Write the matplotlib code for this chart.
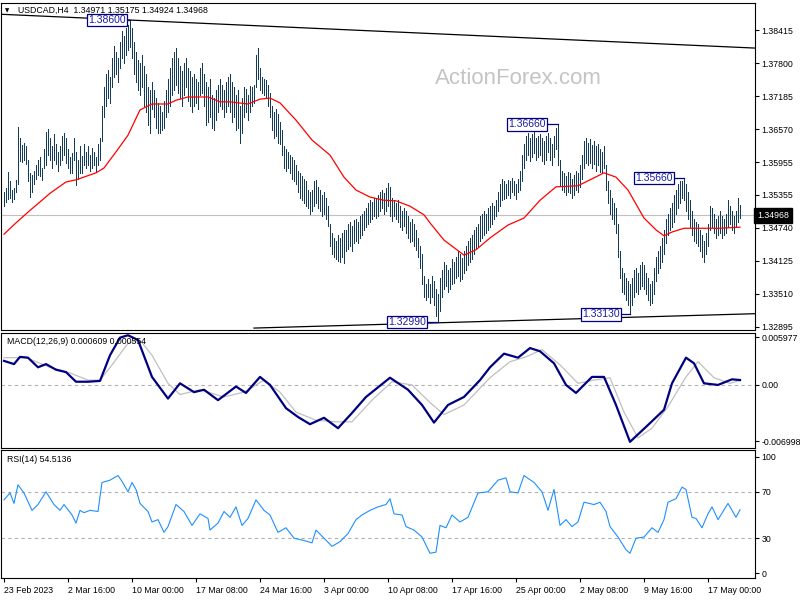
import matplotlib
matplotlib.use("Agg")
import matplotlib.pyplot as plt
import matplotlib.transforms as mtransforms
import numpy as np

plt.rcParams["font.family"] = ["Liberation Sans", "DejaVu Sans"]

# header / last quote
symbol = "USDCAD,H4"
last_ohlc = ["1.34971", "1.35175", "1.34924", "1.34968"]
last_price = 1.34968

# H4 bars, highs and lows in pips above 1.3000 (one entry per bar)
bar_high = [
    540, 548, 578, 560, 545, 548, 562, 662, 640, 628,
    632, 625, 600, 575, 572, 580, 590, 600, 605, 585,
    620, 652, 658, 640, 625, 648, 630, 615, 625, 645,
    650, 640, 620, 605, 612, 640, 615, 600, 625, 608,
    630, 615, 625, 610, 622, 615, 605, 630, 640, 700,
    735, 760, 768, 755, 790, 812, 800, 790, 820, 840,
    830, 845, 850, 860, 845, 820, 800, 785, 780, 795,
    775, 760, 735, 730, 745, 730, 715, 705, 700, 690,
    710, 730, 750, 770, 790, 800, 808, 790, 775, 765,
    780, 790, 770, 765, 755, 760, 750, 745, 770, 780,
    760, 745, 735, 750, 720, 715, 730, 740, 750, 740,
    730, 745, 755, 760, 745, 735, 720, 730, 700, 715,
    735, 732, 720, 738, 735, 740, 795, 808, 770, 755,
    750, 748, 740, 725, 700, 690, 695, 685, 670, 655,
    625, 620, 615, 610, 605, 600, 590, 580, 575, 570,
    565, 560, 545, 540, 545, 560, 562, 550, 545, 535,
    540, 530, 515, 480, 465, 455, 450, 460, 455, 465,
    470, 470, 480, 485, 478, 488, 490, 485, 495, 500,
    505, 510, 520, 525, 522, 530, 528, 535, 540, 545,
    538, 548, 557, 550, 530, 525, 520, 525, 515, 505,
    510, 505, 495, 485, 490, 480, 470, 455, 440, 425,
    385, 370, 378, 370, 385, 375, 360, 350, 380, 395,
    410, 405, 395, 400, 415, 410, 420, 430, 425, 418,
    430, 440, 450, 455, 460, 470, 475, 480, 495, 500,
    505, 500, 510, 515, 520, 515, 525, 540, 555, 565,
    560, 555, 562, 560, 566, 560, 555, 565, 580, 610,
    630, 645, 650, 640, 648, 652, 640, 645, 648, 640,
    635, 645, 650, 640, 630, 645, 660, 666, 600, 580,
    575, 570, 578, 575, 565, 572, 580, 575, 590, 610,
    635, 640, 632, 638, 628, 635, 625, 630, 620, 615,
    625, 590, 560, 545, 530, 520, 510, 480, 430, 400,
    390, 380, 375, 370, 380, 395, 400, 390, 405, 410,
    405, 390, 380, 370, 375, 400, 420, 430, 440, 455,
    470, 490, 500, 510, 520, 535, 545, 555, 560, 560,
    566, 555, 540, 525, 505, 490, 485, 480, 470, 460,
    450, 465, 480, 515, 510, 500, 490, 495, 505, 495,
    490, 500, 525, 515, 505, 495, 505, 530, 517,
]
bar_low = [
    515, 522, 528, 530, 522, 528, 540, 556, 598, 596,
    600, 592, 560, 532, 540, 555, 565, 572, 570, 562,
    585, 590, 610, 600, 585, 600, 592, 580, 590, 600,
    610, 595, 585, 576, 575, 600, 553, 565, 575, 575,
    590, 585, 590, 580, 585, 590, 578, 590, 600, 635,
    680, 700, 715, 705, 735, 755, 760, 745, 770, 790,
    780, 795, 805, 810, 790, 760, 745, 730, 720, 735,
    700, 690, 665, 650, 695, 680, 660, 650, 650, 655,
    660, 680, 690, 700, 720, 730, 740, 725, 715, 700,
    720, 735, 710, 700, 690, 700, 705, 695, 720, 725,
    700, 665, 670, 680, 660, 655, 675, 690, 700, 695,
    680, 690, 700, 690, 670, 680, 655, 660, 632, 650,
    680, 690, 675, 690, 700, 705, 735, 750, 730, 725,
    720, 715, 700, 680, 655, 640, 645, 632, 630, 610,
    585, 580, 585, 575, 565, 560, 555, 540, 530, 525,
    520, 515, 510, 500, 505, 515, 520, 510, 505, 495,
    500, 490, 478, 440, 425, 420, 415, 412, 410, 420,
    408, 430, 435, 440, 430, 445, 450, 445, 455, 460,
    470, 475, 480, 485, 490, 495, 492, 495, 505, 510,
    500, 505, 515, 495, 487, 495, 490, 485, 475, 470,
    478, 465, 455, 448, 450, 440, 433, 420, 400, 370,
    345, 340, 345, 335, 345, 330, 310, 299, 320, 345,
    360, 365, 355, 360, 370, 372, 380, 385, 375, 378,
    390, 395, 405, 410, 415, 425, 435, 440, 450, 455,
    460, 465, 470, 475, 480, 490, 495, 505, 515, 525,
    528, 530, 535, 530, 540, 535, 528, 540, 545, 560,
    585, 600, 610, 598, 605, 612, 600, 605, 610, 598,
    592, 600, 615, 600, 590, 605, 620, 590, 552, 545,
    540, 535, 540, 538, 530, 535, 545, 540, 550, 565,
    585, 595, 590, 595, 585, 592, 580, 590, 578, 575,
    585, 545, 520, 500, 490, 480, 465, 420, 380, 355,
    350, 340, 330, 313, 330, 345, 355, 350, 360, 365,
    360, 350, 340, 330, 335, 350, 375, 390, 400, 410,
    425, 445, 460, 470, 475, 485, 500, 510, 520, 530,
    525, 505, 490, 475, 460, 450, 445, 440, 430, 420,
    410, 425, 440, 470, 475, 465, 455, 460, 465, 455,
    460, 465, 475, 480, 470, 465, 475, 485, 492,
]

# red moving average (bar index, pips above 1.3000)
ma_bar = [0, 6, 12, 18, 23, 31, 36, 46, 50, 56, 62, 68, 74, 82, 86, 92, 102, 108,
          113, 122, 128, 133, 138, 146, 154, 163, 170, 176, 183, 190, 196, 203,
          210, 213, 220, 230, 236, 243, 252, 260, 268, 276, 287, 293, 300, 306,
          312, 320, 326, 330, 334, 340, 348, 358, 368]
ma_pips = [462, 483, 503, 522, 538, 559, 563, 576, 585, 615, 646, 693, 704, 704,
           711, 717, 717, 708, 708, 704, 713, 715, 706, 674, 637, 609, 568, 544,
           531, 525, 524, 514, 498, 483, 451, 423, 433, 455, 479, 492, 525, 550,
           552, 563, 576, 568, 544, 492, 470, 459, 466, 473, 473, 473, 475]

# MACD(12,26,9)
macd_bar = [0, 5, 8, 12, 17, 21, 26, 31, 36, 42, 48, 53, 58, 62, 67, 74, 82, 88,
            95, 100, 107, 116, 121, 128, 133, 141, 147, 153, 160, 167, 174, 181,
            193, 202, 209, 215, 222, 230, 238, 243, 250, 257, 263, 268, 275, 281,
            286, 294, 300, 306, 313, 322, 330, 334, 341, 345, 350, 357, 364, 368]
macd_val = [0.0030, 0.0026, 0.0035, 0.0034, 0.0022, 0.0026, 0.0019, 0.0016,
            0.0004, 0.0004, 0.0005, 0.0037, 0.0059, 0.0062, 0.0056, 0.0010,
            -0.0017, 0.0002, -0.0009, -0.0006, -0.0019, -0.0002, -0.0010, 0.0010,
            0.0000, -0.0029, -0.0040, -0.0049, -0.0041, -0.0054, -0.0035, -0.0015,
            0.0009, -0.0006, -0.0025, -0.0047, -0.0025, -0.0015, 0.0006, 0.0022,
            0.0039, 0.0034, 0.0046, 0.0042, 0.0027, 0.0000, -0.0010, 0.0010,
            0.0010, -0.0025, -0.0071, -0.0050, -0.0031, 0.0002, 0.0034, 0.0027,
            0.0002, 0.0000, 0.0007, 0.000609]
signal_bar = [0, 11, 23, 33, 42, 48, 54, 62, 68, 74, 82, 88, 98, 110, 120, 130,
              138, 146, 156, 166, 174, 184, 194, 204, 213, 220, 230, 243, 253,
              261, 269, 278, 287, 295, 303, 310, 317, 324, 332, 341, 347, 355,
              363, 368]
signal_val = [0.0034, 0.0034, 0.0022, 0.0015, 0.0006, 0.0006, 0.0025, 0.0052,
              0.0056, 0.0037, 0.0002, -0.0012, -0.0006, -0.0015, -0.0009, 0.0006,
              -0.0009, -0.0034, -0.0044, -0.0046, -0.0046, -0.0019, 0.0004, 0.0000,
              -0.0022, -0.0037, -0.0025, 0.0009, 0.0029, 0.0035, 0.0044, 0.0025,
              0.0002, 0.0006, 0.0009, -0.0034, -0.0066, -0.0054, -0.0027, 0.0010,
              0.0029, 0.0009, 0.0002, 0.000554]

# RSI(14)
rsi_bar = [0, 3, 5, 7, 10, 14, 17, 21, 25, 28, 30, 34, 36, 38, 40, 43, 47, 49,
           53, 57, 59, 62, 64, 66, 68, 72, 74, 77, 80, 82, 86, 90, 94, 98, 102,
           103, 107, 110, 113, 116, 119, 122, 126, 130, 133, 137, 141, 145, 150,
           154, 156, 160, 164, 168, 172, 176, 179, 183, 187, 191, 193, 195, 199,
           201, 205, 209, 213, 216, 218, 221, 224, 228, 232, 237, 242, 247, 251,
           253, 257, 260, 265, 269, 272, 275, 278, 281, 284, 287, 290, 295, 298,
           301, 303, 307, 311, 313, 316, 320, 324, 327, 330, 332, 336, 339, 341,
           344, 346, 349, 352, 354, 357, 362, 366, 368]
rsi_val = [63, 69, 60, 76, 69, 54, 59, 70, 59, 54, 59, 50, 43, 54, 52, 54, 53, 78,
           80, 84, 79, 70, 78, 72, 60, 53, 44, 46, 35, 40, 59, 53, 41, 51, 47,
           37, 43, 53, 48, 57, 41, 47, 63, 54, 50, 35, 39, 30, 28, 26, 37, 30,
           23, 27, 34, 46, 50, 54, 57, 59, 64, 51, 50, 40, 37, 31, 17, 18, 41,
           39, 50, 44, 48, 69, 70, 80, 82, 70, 69, 84, 78, 70, 54, 72, 41, 46,
           40, 44, 61, 59, 61, 53, 40, 31, 20, 17, 30, 31, 39, 35, 46, 61, 64,
           74, 72, 48, 47, 39, 51, 57, 46, 60, 48, 54.5136]

price_ticks = [1.38415, 1.37800, 1.37185, 1.36570, 1.35955, 1.35355,
               1.34740, 1.34125, 1.33510, 1.32895]
macd_ticks = [0.005977, 0.0, -0.006998]
macd_tick_labels = ["0.005977", "0.00", "-0.006998"]
rsi_ticks = [100, 70, 30, 0]
rsi_levels = [70, 30]

date_ticks = [0, 32, 64, 96, 128, 160, 192, 224, 256, 288, 320, 352]
date_labels = ["23 Feb 2023", "2 Mar 16:00", "10 Mar 00:00", "17 Mar 08:00",
               "24 Mar 16:00", "3 Apr 00:00", "10 Apr 08:00", "17 Apr 16:00",
               "25 Apr 00:00", "2 May 08:00", "9 May 16:00", "17 May 00:00"]

# swing labels (bar index, price)
swing_bar = [63, 217, 277, 340, 313]
swing_price = [1.38600, 1.32990, 1.36660, 1.35660, 1.33130]
swing_gap = [1.5, 5.5, 5.5, 5.0, 4.5]

# trend lines: upper is a ray through the March top, lower starts in late March
upper_line = [(63, 1.38600), (375, 1.38080)]
lower_line = [(125, 1.32875), (375.5, 1.33142)]

BAR = "#123c5a"
NAVY = "#000080"
FS = 6.3

W, H = 800, 600


def panel(top, bottom, left=1, right=755):
    return [left / W, 1 - bottom / H, (right - left) / W, (bottom - top) / H]


fig = plt.figure(figsize=(8, 6), dpi=100)
fig.patch.set_facecolor("white")
ax_p = fig.add_axes(panel(3, 330))
ax_m = fig.add_axes(panel(333, 448), sharex=ax_p)
ax_r = fig.add_axes(panel(450, 578), sharex=ax_p)

idx = np.arange(len(bar_high))
highs = 1.3 + np.array(bar_high) / 10000
lows = 1.3 + np.array(bar_low) / 10000

# price panel
ax_p.axhline(last_price, color="#c0c0c0", lw=0.8, zorder=1)
ax_p.vlines(idx, lows, highs, color=BAR, lw=0.5, antialiased=False, zorder=2)
ax_p.plot(ma_bar, 1.3 + np.array(ma_pips) / 10000, color="#ff0000", lw=0.9, zorder=3)
ax_p.axline(upper_line[0], upper_line[1], color="black", lw=0.9, zorder=3)
ax_p.plot([p[0] for p in lower_line], [p[1] for p in lower_line],
          color="black", lw=0.9, zorder=3)

for b, pr, gap in zip(swing_bar, swing_price, swing_gap):
    ax_p.plot([b - gap, b], [pr, pr], color=NAVY, lw=0.9, zorder=4)
    ax_p.text(b - gap - 0.6, pr, f"{pr:.5f}", ha="right", va="center",
              fontsize=7.5, color="#1c1ca0", zorder=5,
              bbox=dict(boxstyle="square,pad=0.12", fc="white", ec=NAVY, lw=0.9))

ax_p.set_ylim(1.32839, 1.38917)
ax_p.set_yticks(price_ticks)
ax_p.set_yticklabels([f"{t:.5f}" for t in price_ticks])

trans = mtransforms.blended_transform_factory(ax_p.transAxes, ax_p.transData)
ax_p.text(1.003, last_price, f"{last_price:.5f}", transform=trans, ha="left",
          va="center", fontsize=FS, color="white", zorder=6, clip_on=False,
          bbox=dict(boxstyle="square,pad=0.35", fc="black", ec="black"))

fig.text(518 / W, 1 - 79 / H, "ActionForex.com", ha="center", va="center",
         fontsize=16, color="#c4c4c4")
fig.text(5 / W, 1 - 11 / H, "\u25BC", fontsize=4, family="DejaVu Sans", va="center")
fig.text(18 / W, 1 - 10 / H, symbol + "  " + " ".join(last_ohlc),
         fontsize=FS, va="center")

# MACD panel
ax_m.axhline(0, color="#b0b0b0", lw=0.8, ls=(0, (3, 3)))
ax_m.plot(signal_bar, signal_val, color="#c0c0c0", lw=0.9)
ax_m.plot(macd_bar, macd_val, color=NAVY, lw=1.6)
ax_m.set_ylim(-0.00787, 0.00648)
ax_m.set_yticks(macd_ticks)
ax_m.set_yticklabels(macd_tick_labels)
ax_m.text(6 / 754, 1 - 8 / 115, f"MACD(12,26,9) {macd_val[-1]:.6f} {signal_val[-1]:.6f}",
          transform=ax_m.transAxes, fontsize=FS, va="center")

# RSI panel
for lvl in rsi_levels:
    ax_r.axhline(lvl, color="#b0b0b0", lw=0.8, ls=(0, (3, 3)))
ax_r.plot(rsi_bar, rsi_val, color="#1e90ff", lw=0.8)
ax_r.set_ylim(-4.3, 106)
ax_r.set_yticks(rsi_ticks)
ax_r.set_yticklabels([str(t) for t in rsi_ticks])
ax_r.text(6 / 754, 1 - 10 / 128, f"RSI(14) {rsi_val[-1]:.4f}",
          transform=ax_r.transAxes, fontsize=FS, va="center")

ax_r.set_xlim(-1.5, 375.5)
ax_r.set_xticks(date_ticks)
ax_r.set_xticklabels(date_labels, ha="left")

for ax in (ax_p, ax_m, ax_r):
    ax.yaxis.tick_right()
    ax.tick_params(axis="y", direction="out", length=3, width=0.8,
                   labelsize=FS, pad=1.5)
    for s in ax.spines.values():
        s.set_color("black")
        s.set_linewidth(0.8)
    ax.set_facecolor("white")
for ax in (ax_p, ax_m):
    ax.tick_params(axis="x", bottom=False, labelbottom=False)
ax_r.tick_params(axis="x", direction="out", length=3, width=0.8,
                 labelsize=FS, pad=3)

fig.savefig("out.png", dpi=100)
